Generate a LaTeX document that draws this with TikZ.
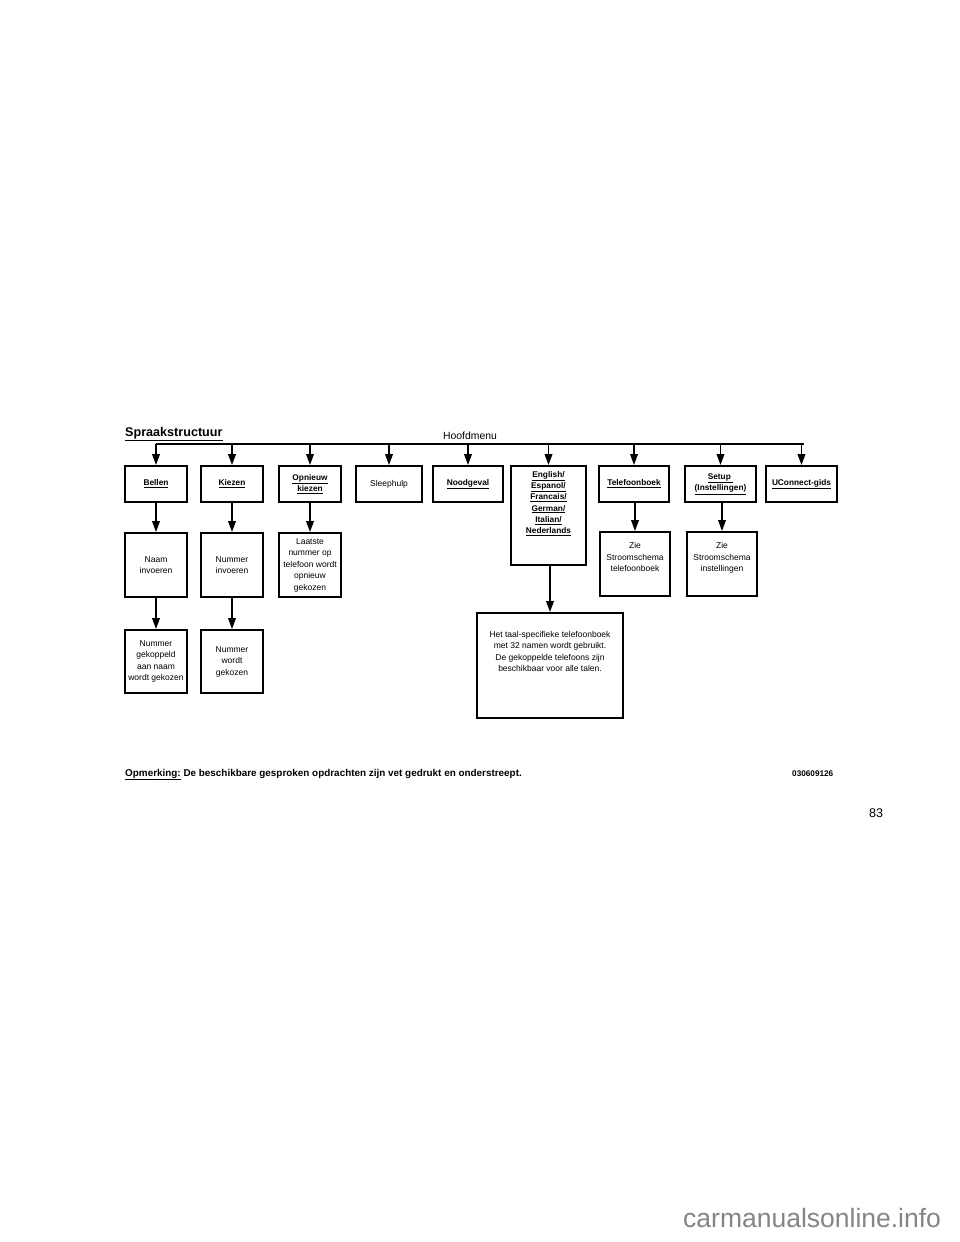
\documentclass[tikz,border=0pt]{standalone}
\usepackage{fontspec}
\setmainfont{Liberation Sans}
\usetikzlibrary{arrows.meta}
\begin{document}
\begin{tikzpicture}[x=1pt,y=-1pt,
  box/.style={draw, line width=1.8pt, align=center, inner sep=1pt,
    font=\fontsize{8.5}{11.5}\selectfont},
  bbox/.style={box, font=\fontsize{8.3}{11.5}\selectfont\bfseries},
  top/.style={minimum height=36pt},
  mid/.style={minimum height=64pt},
  low/.style={minimum height=63pt},
  arr/.style={line width=1.8pt, -{Triangle[length=11pt,width=7.5pt]}},
  txt/.style={inner sep=0pt, align=center, font=\fontsize{8.5}{11.5}\selectfont}]
\useasboundingbox (0,0) rectangle (960,1242);
\fill[white] (0,0) rectangle (960,1242);

% title and header
\node[anchor=base west, inner sep=0pt, font=\fontsize{12.6}{14}\selectfont\bfseries] (title) at (125,436) {\underline{Spraakstructuur}};
\node[anchor=base, inner sep=0pt, font=\fontsize{10.4}{12}\selectfont] (hoofd) at (470,439) {Hoofdmenu};

% top row
\node[bbox, top, minimum width=62pt] (bellen) at (156,484) {\underline{Bellen}};
\node[bbox, top, minimum width=62pt] (kiezen) at (232,484) {\underline{Kiezen}};
\node[bbox, top, minimum width=62pt] (opnieuw) at (310,484) {\underline{Opnieuw}\\\underline{kiezen}};
\node[box, top, minimum width=66pt] (sleep) at (389,484) {Sleephulp};
\node[bbox, top, minimum width=70pt] (nood) at (468,484) {\underline{Noodgeval}};
\node[draw, line width=1.8pt, minimum width=75pt, minimum height=99pt] (english) at (548.5,515.5) {};
\node[txt, anchor=north, font=\fontsize{8.3}{11.3}\selectfont\bfseries] (englishtxt) at (548.5,471) {\underline{English/}\\\underline{Espanol/}\\\underline{Francais/}\\\underline{German/}\\\underline{Italian/}\\\underline{Nederlands}};
\node[bbox, top, minimum width=70pt] (tel) at (634,484) {\underline{Telefoonboek}};
\node[bbox, top, minimum width=71pt] (setup) at (720.5,484) {\underline{Setup\ }\\\underline{(Instellingen)}};
\node[bbox, top, minimum width=71pt] (ucon) at (801.5,484) {\underline{UConnect-gids}};

% bus
\coordinate (busL) at (156,444);
\coordinate (busR) at (804,444);
\draw[line width=1.8pt] (busL) -- (busR);
\foreach \n in {bellen,kiezen,opnieuw,sleep,nood,english,tel,setup,ucon}
  \draw[arr] (\n.north |- busL) -- (\n.north);

% second row
\node[box, mid, minimum width=62pt] (naam) at (156,565) {Naam\\invoeren};
\node[box, mid, minimum width=62pt] (numinv) at (232,565) {Nummer\\invoeren};
\node[box, mid, minimum width=62pt] (laatste) at (310,565) {Laatste\\nummer op\\telefoon wordt\\opnieuw\\gekozen};
\node[box, mid, minimum width=70pt] (zietel) at (635,564) {Zie\\Stroomschema\\telefoonboek\\[2pt]};
\node[box, mid, minimum width=70pt] (zieinst) at (722,564) {Zie\\Stroomschema\\instellingen\\[2pt]};

% third row
\node[box, low, minimum width=62pt] (numgek) at (156,661.5) {Nummer\\gekoppeld\\aan naam\\wordt gekozen};
\node[box, low, minimum width=62pt] (numwordt) at (232,661.5) {Nummer\\wordt\\gekozen};
\node[draw, line width=1.8pt, minimum width=146pt, minimum height=105pt] (taal) at (550,665.5) {};
\node[txt, anchor=north] (taaltxt) at (550,631) {Het taal-specifieke telefoonboek\\met 32 namen wordt gebruikt.\\De gekoppelde telefoons zijn\\beschikbaar voor alle talen.};

% vertical connectors
\draw[arr] (bellen) -- (naam);
\draw[arr] (naam) -- (numgek);
\draw[arr] (kiezen) -- (numinv);
\draw[arr] (numinv) -- (numwordt);
\draw[arr] (opnieuw) -- (laatste);
\draw[arr] (english.south -| taal.north) -- (taal.north);
\draw[arr] (tel.south -| zietel.north) -- (zietel.north);
\draw[arr] (setup.south -| zieinst.north) -- (zieinst.north);

% note and codes
\node[anchor=base west, inner sep=0pt, font=\fontsize{9.9}{11}\selectfont\bfseries] (note) at (125,776) {\underline{Opmerking:} De beschikbare gesproken opdrachten zijn vet gedrukt en onderstreept.};
\node[anchor=base west, inner sep=0pt, font=\fontsize{8.2}{9}\selectfont\bfseries] (code) at (792,776) {030609126};
\node[anchor=base west, inner sep=0pt, font=\fontsize{12.6}{14}\selectfont] (page) at (869,817) {83};
\node[anchor=base west, inner sep=0pt, font=\fontsize{26.5}{30}\selectfont, text=black!48] (wm) at (683,1227) {carmanualsonline.info};
\end{tikzpicture}
\end{document}
